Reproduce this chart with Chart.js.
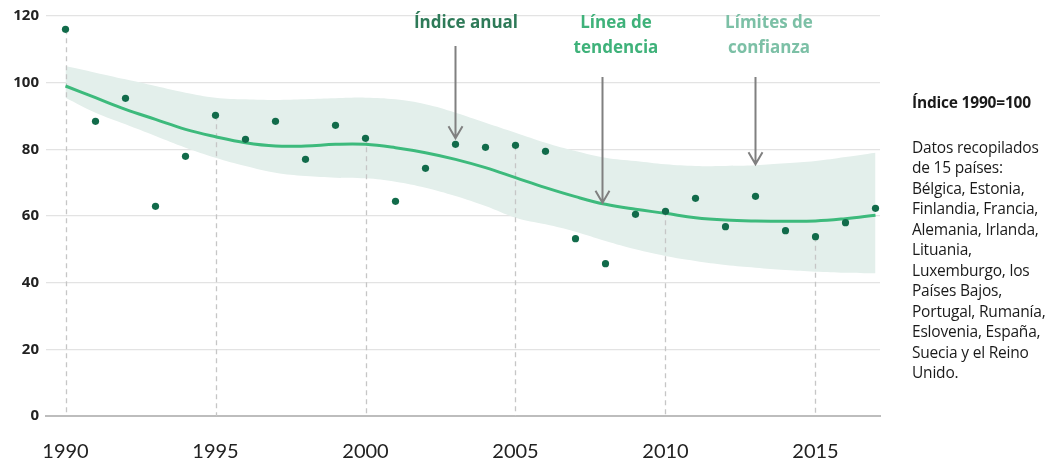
<!DOCTYPE html>
<html>
<head>
<meta charset="utf-8">
<script src="https://cdn.jsdelivr.net/npm/chart.js@4.4.1/dist/chart.umd.min.js"></script>
<style>
  body { margin: 0; background: #fff; }
  #wrap { position: relative; width: 1064px; height: 462px; }
  #side {
    position: absolute; left: 912px; top: 92px; width: 152px;
    font-family: "Open Sans", sans-serif; font-size: 15.5px; line-height: 20.5px; color: #1a1a1a;
    letter-spacing: -0.2px;
  }
  #side .title { font-weight: 700; margin-bottom: 24px; }
</style>
</head>
<body>
<div id="wrap">
  <canvas id="chart" width="1064" height="462"></canvas>
  <div id="side">
    <div class="title">Índice 1990=100</div>
    <div>Datos recopilados<br>de 15 países:<br>Bélgica, Estonia,<br>Finlandia, Francia,<br>Alemania, Irlanda,<br>Lituania,<br>Luxemburgo, los<br>Países Bajos,<br>Portugal, Rumanía,<br>Eslovenia, España,<br>Suecia y el Reino<br>Unido.</div>
  </div>
</div>
<script>
// values
const years = [1990, 1991, 1992, 1993, 1994, 1995, 1996, 1997, 1998, 1999,
               2000, 2001, 2002, 2003, 2004, 2005, 2006, 2007, 2008, 2009,
               2010, 2011, 2012, 2013, 2014, 2015, 2016, 2017];
const annualIndex = [116, 88.4, 95.3, 62.9, 77.9, 90.2, 83, 88.4, 77, 87.2,
                     83.3, 64.4, 74.3, 81.5, 80.6, 81.2, 79.4, 53.2, 45.7, 60.5,
                     61.4, 65.3, 56.8, 65.9, 55.6, 53.8, 58, 62.3];
const trend = [99, 95.5, 92, 89, 86, 83.8, 82, 81, 81, 81.5,
               81.5, 80.5, 79, 77, 74.5, 71.5, 68.5, 65.8, 63.5, 62,
               60.8, 59.5, 58.8, 58.5, 58.4, 58.5, 59.2, 60.2];
const upperLimit = [105, 103, 101, 99, 97, 95.5, 95, 94.8, 95, 95.3,
                    95.5, 95, 93.5, 91, 88, 85, 82, 79.5, 77.5, 76.5,
                    75.5, 75, 75, 75.2, 75.8, 76.5, 77.7, 79];
const lowerLimit = [95.5, 91, 87.5, 84, 80.5, 77.5, 75, 73, 72, 71.5,
                    71.3, 70.3, 68.5, 66, 63, 59.5, 57.5, 55.3, 52.5, 50,
                    48, 46.5, 45.3, 44.5, 43.8, 43.3, 43, 42.8];
const xTicks = [1990, 1995, 2000, 2005, 2010, 2015];
const yTicks = [0, 20, 40, 60, 80, 100, 120];

// annotations: label lines, arrow x, arrow top value, arrow tip value
const notes = [
  { lines: ['Índice anual'], color: '#2e7a58', x: 2003, top: 111, tip: 83.3 },
  { lines: ['Línea de', 'tendencia'], color: '#3fb27a', x: 2007.9, top: 101.7, tip: 64 },
  { lines: ['Límites de', 'confianza'], color: '#7cc0a6', x: 2013, top: 101.7, tip: 75.5 }
];
const noteTextX = [2003.35, 2008.35, 2013.45];

const toXY = arr => years.map((y, i) => ({ x: y, y: arr[i] }));

const extras = {
  id: 'extras',
  afterDatasetDraw(chart, args) {
    if (args.index !== 2) return;
    // dashed drop lines, over the band, under the trend line and dots
    const { ctx, scales: { x, y } } = chart;
    ctx.save();
    ctx.strokeStyle = '#c6c6c6';
    ctx.lineWidth = 1.3;
    ctx.setLineDash([5, 4]);
    years.forEach((yr, i) => {
      if (!xTicks.includes(yr)) return;
      const px = Math.round(x.getPixelForValue(yr)) + 0.5;
      ctx.beginPath();
      ctx.moveTo(px, y.getPixelForValue(annualIndex[i]));
      ctx.lineTo(px, y.getPixelForValue(0));
      ctx.stroke();
    });
    ctx.restore();
  },
  afterDatasetsDraw(chart) {
    const { ctx, scales: { x, y } } = chart;
    ctx.save();
    notes.forEach((n, k) => {
      const px = x.getPixelForValue(n.x);
      const y0 = y.getPixelForValue(n.top);
      const y1 = y.getPixelForValue(n.tip);
      ctx.strokeStyle = '#808080';
      ctx.lineWidth = 2;
      ctx.beginPath();
      ctx.moveTo(px, y0);
      ctx.lineTo(px, y1);
      ctx.moveTo(px - 7, y1 - 12);
      ctx.lineTo(px, y1);
      ctx.lineTo(px + 7, y1 - 12);
      ctx.stroke();
      ctx.fillStyle = n.color;
      ctx.font = '700 17px "Open Sans", sans-serif';
      ctx.textAlign = 'center';
      ctx.textBaseline = 'middle';
      const tx = x.getPixelForValue(noteTextX[k]);
      n.lines.forEach((t, j) => ctx.fillText(t, tx, 23 + j * 25));
    });
    ctx.restore();
  }
};

new Chart(document.getElementById('chart'), {
  type: 'line',
  data: {
    datasets: [
      {
        data: toXY(annualIndex),
        showLine: false,
        pointRadius: 3.6,
        pointBackgroundColor: '#116b4a',
        pointBorderWidth: 0
      },
      {
        data: toXY(trend),
        borderColor: '#3dba7c',
        borderWidth: 3,
        pointRadius: 0,
        tension: 0.4,
        fill: false
      },
      {
        data: toXY(upperLimit),
        borderWidth: 0,
        pointRadius: 0,
        tension: 0.4,
        backgroundColor: '#e3efeb',
        fill: '+1'
      },
      {
        data: toXY(lowerLimit),
        borderWidth: 0,
        pointRadius: 0,
        tension: 0.4,
        fill: false
      }
    ]
  },
  options: {
    responsive: false,
    animation: false,
    layout: { padding: { top: 16, right: 184, left: 0, bottom: 0 } },
    plugins: { legend: { display: false }, tooltip: { enabled: false } },
    scales: {
      x: {
        type: 'linear',
        min: 1989.35,
        max: 2017.15,
        afterBuildTicks: s => { s.ticks = xTicks.map(v => ({ value: v })); },
        afterFit: s => { s.height = 46; },
        grid: { display: false },
        border: { color: '#bdbdbd', width: 2 },
        ticks: {
          padding: 16,
          color: '#222',
          font: { family: 'Lato, sans-serif', size: 20 },
          callback: v => String(v)
        }
      },
      y: {
        min: 0,
        max: 120,
        afterBuildTicks: s => { s.ticks = yTicks.map(v => ({ value: v })); },
        afterFit: s => { s.width = 46; },
        grid: { color: '#e3e3e3', lineWidth: 1.3, drawTicks: false },
        border: { display: false },
        ticks: {
          padding: 7,
          color: '#222',
          font: { family: '"Open Sans", sans-serif', size: 15, weight: 700 }
        }
      }
    }
  },
  plugins: [extras]
});
</script>
</body>
</html>
